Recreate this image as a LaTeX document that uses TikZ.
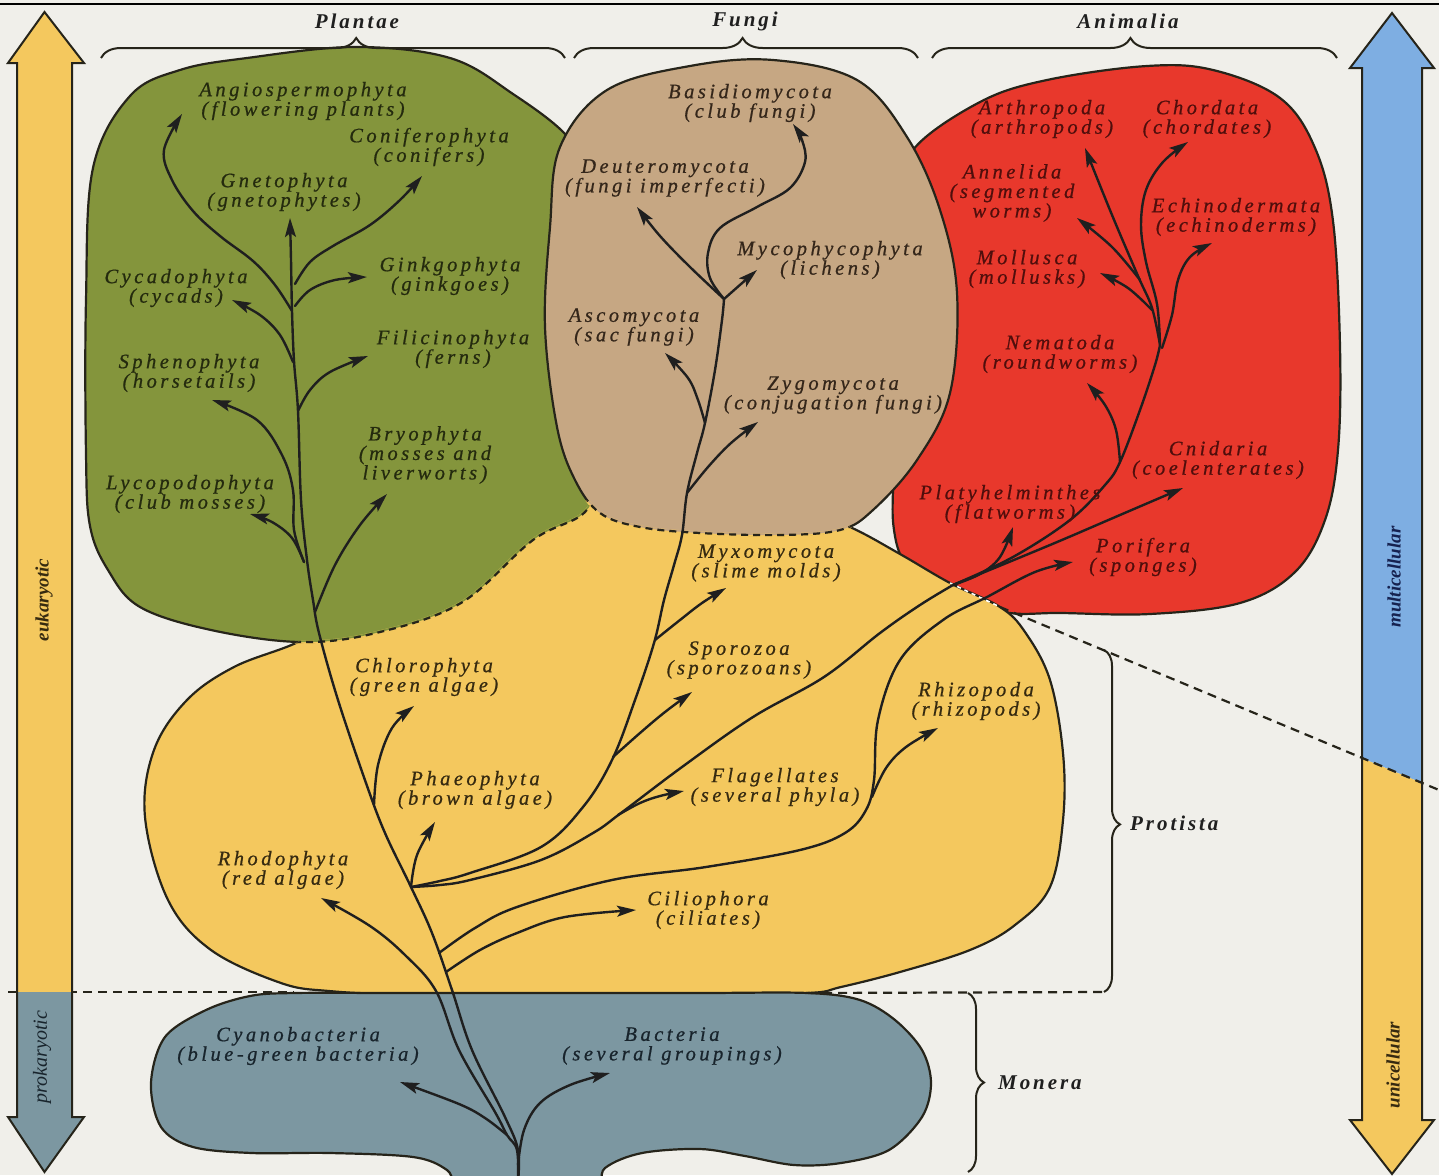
\documentclass[tikz,border=0pt]{standalone}
\usepackage{fontspec}
\setmainfont{Liberation Serif}
\newfontfamily\labfont{Liberation Serif}[LetterSpace=17,FakeBold=0.7]
\newfontfamily\kingfont{Liberation Serif}[LetterSpace=14]
\usetikzlibrary{arrows.meta,decorations.pathreplacing}

\definecolor{bgc}{RGB}{240,239,234}
\definecolor{plantc}{RGB}{132,149,60}
\definecolor{fungc}{RGB}{198,167,131}
\definecolor{animc}{RGB}{232,56,44}
\definecolor{protc}{RGB}{244,200,94}
\definecolor{monc}{RGB}{124,151,161}
\definecolor{bluec}{RGB}{126,174,226}
\definecolor{outl}{RGB}{38,36,26}
\definecolor{inkg}{RGB}{36,42,14}
\definecolor{inkf}{RGB}{52,38,26}
\definecolor{inkr}{RGB}{80,14,12}
\definecolor{inky}{RGB}{54,42,16}
\definecolor{inkm}{RGB}{24,36,44}
\definecolor{inkb}{RGB}{22,34,80}

\def\greenpath{plot[smooth cycle, tension=0.6] coordinates {(247,58) (355,47) (450,58) (513,94) (568,137) (595,185) (608,260) (608,400) (600,470) (585,512) (533,540) (461,603) (376,633) (300,642) (211,630) (140,607) (108,570) (90,526) (86,454) (86,300) (93,168) (130,96) (180,70)}}
\def\tanpath{plot[smooth cycle, tension=0.6] coordinates {(550,227) (560,147) (607,90) (690,66) (773,60) (857,80) (907,137) (940,210) (957,293) (950,393) (917,460) (873,510) (840,530) (780,535) (700,533) (640,527) (600,513) (575,480) (557,427) (545,327)}}
\def\redpath{plot[smooth cycle, tension=0.6] coordinates {(913,150) (980,102) (1047,80) (1147,66) (1213,70) (1280,98) (1315,148) (1333,221) (1340,347) (1338,450) (1325,520) (1295,572) (1240,603) (1150,614) (1060,613) (1010,613) (960,600) (925,583) (903,560) (894,530) (893,490) (898,400) (903,300) (907,200)}}
\def\yellowpath{plot[smooth cycle, tension=0.6] coordinates {(296,643) (350,614) (440,574) (530,528) (600,497) (700,494) (790,504) (850,527) (900,554) (950,583) (1000,607) (1025,632) (1050,680) (1063,753) (1063,820) (1050,887) (1015,925) (970,950) (900,972) (841,987) (808,993) (700,994) (550,994) (400,994) (329,991) (281,983) (211,950) (168,900) (145,817) (154,750) (187,700) (234,667)}}
\def\monpath{plot[smooth cycle, tension=0.55] coordinates {(294,993) (400,993) (550,993) (700,993) (808,993) (860,1000) (895,1020) (922,1050) (931,1083) (922,1117) (889,1150) (841,1163) (794,1165) (745,1156) (700,1149) (642,1153) (605,1168) (588,1195) (470,1195) (447,1170) (413,1157) (330,1153) (252,1153) (193,1147) (161,1127) (151,1083) (165,1037) (206,1010) (250,996)}}
\def\leftarr{(17,63) -- (8,63) -- (44.5,12) -- (84,63) -- (72,63) -- (72,1117) -- (84,1117) -- (44.5,1172) -- (8,1117) -- (17,1117) -- cycle}
\def\rightarr{(1362,68) -- (1350,68) -- (1392,13) -- (1434,68) -- (1422,68) -- (1422,1120) -- (1434,1120) -- (1392,1174) -- (1350,1120) -- (1362,1120) -- cycle}

\tikzset{
  blob/.style={draw=outl, line width=2.2pt},
  brline/.style={draw=black!88, line width=2.4pt, line cap=round, line join=round},
  arr/.style={brline, -{Stealth[length=19pt,width=11pt,inset=4pt]}},
  lab/.style={font=\labfont\itshape\fontsize{20.5}{19.5}\selectfont, align=center, inner sep=0pt},
  king/.style={font=\kingfont\bfseries\itshape\fontsize{21}{22}\selectfont, text=black!88, inner sep=0pt},
  sidelab/.style={font=\bfseries\itshape\fontsize{19}{20}\selectfont, inner sep=0pt, rotate=90},
  brc/.style={draw=outl, line width=2pt, decorate},
  divl/.style={draw=outl, line width=2.2pt, dash pattern=on 9pt off 6pt},
  hid/.style={draw=outl, line width=2.2pt, dash pattern=on 7pt off 5pt},
}

\begin{document}
\begin{tikzpicture}[x=1pt,y=-1pt]
\useasboundingbox (0,0) rectangle (1439,1175);
\begin{scope}
\clip (0,0) rectangle (1439,1175);
\fill[bgc] (0,0) rectangle (1439,1175);
\draw[black, line width=2.5pt] (0,4) -- (1439,4);

% ---- kingdoms ----
\fill[animc] \redpath;
\draw[blob] \redpath;
\fill[protc] \yellowpath;
\draw[blob] \yellowpath;
\draw[white, line width=1.6pt, dash pattern=on 4pt off 4pt] (950,583) -- (1000,607);

\fill[plantc] \greenpath;
\draw[blob] \greenpath;
\begin{scope}
  \clip \yellowpath;
  \draw[protc, line width=3.4pt] \greenpath;
  \begin{scope}
    \clip \greenpath;
    \draw[plantc, line width=3.4pt] \greenpath;
  \end{scope}
  \draw[hid] \greenpath;
\end{scope}

\fill[fungc] \tanpath;
\draw[blob] \tanpath;
\begin{scope}
  \clip \yellowpath;
  \draw[protc, line width=3.4pt] \tanpath;
  \begin{scope}
    \clip \tanpath;
    \draw[fungc, line width=3.4pt] \tanpath;
  \end{scope}
  \draw[hid] \tanpath;
\end{scope}

\fill[monc] \monpath;
\draw[blob] \monpath;

% ---- division lines ----
\draw[divl] (8,992) -- (294,992);
\draw[divl] (808,993) -- (1104,992);

% ---- side arrows ----
\begin{scope} \clip (0,0) rectangle (100,992); \fill[protc] \leftarr; \end{scope}
\begin{scope} \clip (0,992) rectangle (100,1175); \fill[monc] \leftarr; \end{scope}
\draw[outl, line width=2pt] \leftarr;
\begin{scope} \clip (1330,0) -- (1439,0) -- (1439,790) -- (1330,745) -- cycle; \fill[bluec] \rightarr; \end{scope}
\begin{scope} \clip (1330,745) -- (1439,790) -- (1439,1175) -- (1330,1175) -- cycle; \fill[protc] \rightarr; \end{scope}
\draw[outl, line width=2pt] \rightarr;
\draw[divl] (1000,607) -- (1439,790);

\node[sidelab, text=inky] (euk) at (44,600) {eukaryotic};
\node[sidelab, text=inkm, font=\itshape\fontsize{20}{20}\selectfont] (prok) at (42,1057) {prokaryotic};
\node[sidelab, text=inkb] (multi) at (1394,577) {multicellular};
\node[sidelab, text=inky] (uni) at (1393,1065) {unicellular};

% ---- braces ----
\draw[brc, decoration={brace, amplitude=20pt, aspect=0.55}] (101,58) -- (565,58);
\draw[brc, decoration={brace, amplitude=20pt, aspect=0.49}] (574,58) -- (918,58);
\draw[brc, decoration={brace, amplitude=20pt, aspect=0.49}] (932,58) -- (1337,58);
\draw[brc, decoration={brace, amplitude=16pt, aspect=0.51}] (1104,650) -- (1104,992);
\draw[brc, decoration={brace, amplitude=16pt, aspect=0.5}] (968,993) -- (968,1172);
\node[king] (plantae) at (357,21) {Plantae};
\node[king] (fungi) at (745,21) {Fungi};
\node[king] (animalia) at (1128,21) {Animalia};
\node[king, anchor=west] (protista) at (1130,823) {Protista};
\node[king, anchor=west] (monera) at (998,1083) {Monera};

% ---- tree coordinates ----
\coordinate (root) at (518,1182);
\coordinate (j0) at (517,1150);
\coordinate (jPha) at (411,887);
\coordinate (jCil) at (446,972);
\coordinate (jRhz) at (439,953);
\coordinate (fnJ) at (724,299);
\coordinate (anJ) at (953,585);
\coordinate (an2) at (1160,345);
\coordinate (cyT) at (400,1082);
\coordinate (baT) at (610,1073);
\coordinate (rhT) at (321,898);
\coordinate (ciT) at (636,910);
\coordinate (phT) at (435,822);
\coordinate (chT) at (414,706);
\coordinate (spT) at (692,692);
\coordinate (myT) at (726,588);
\coordinate (flT) at (684,791);
\coordinate (rzT) at (938,728);
\coordinate (poT) at (1073,562);
\coordinate (gnT) at (290,218);
\coordinate (brT) at (387,494);
\coordinate (lyT) at (250,514);
\coordinate (shT) at (212,400);
\coordinate (fiT) at (368,356);
\coordinate (cdT) at (232,300);
\coordinate (gkT) at (367,277);
\coordinate (cnfT) at (422,176);
\coordinate (agT) at (182,114);
\coordinate (zyT) at (758,422);
\coordinate (asT) at (665,353);
\coordinate (deT) at (637,207);
\coordinate (mpT) at (757,270);
\coordinate (bsT) at (793,124);
\coordinate (plT) at (1013,527);
\coordinate (cnT) at (1183,488);
\coordinate (neT) at (1087,383);
\coordinate (arT) at (1085,148);
\coordinate (aeT) at (1077,218);
\coordinate (moT) at (1100,273);
\coordinate (coT) at (1188,142);
\coordinate (ecT) at (1212,243);

% ---- Monera ----
\draw[arr] plot[smooth, tension=0.6] coordinates {(root) (j0) (507,1135) (495,1112) (459,1050) (436,991) (405,955) (370,926) (rhT)};
\draw[arr] plot[smooth, tension=0.6] coordinates {(507,1135) (485,1118) (459,1104) (cyT)};
\draw[arr] plot[smooth, tension=0.6] coordinates {(518,1165) (524,1130) (540,1103) (570,1085) (baT)};
% main trunk up to Gnetophyta
\draw[arr] plot[smooth, tension=0.6] coordinates {(root) (518,1150) (505,1117) (472,1050) (452,990) (432,933) (jPha) (385,833) (366,783) (338,700) (319,633) (313,600) (307,560) (301,500) (298,411) (294,361) (292,311) (291,260) (gnT)};

% ---- Protista ----
\draw[arr] plot[smooth, tension=0.6] coordinates {(jCil) (480,950) (517,933) (565,917) (ciT)};
\draw[arr] plot[smooth, tension=0.6] coordinates {(jRhz) (475,928) (517,907) (612,880) (706,867) (800,850) (845,833) (866,810) (874,780) (878,720) (900,660) (943,620) (987,597) (1035,572) (poT)};
\draw[arr] plot[smooth, tension=0.6] coordinates {(872,797) (886,768) (906,747) (rzT)};
\draw[arr] plot[smooth, tension=0.6] coordinates {(jPha) (417,855) (phT)};
\draw[arr] plot[smooth, tension=0.6] coordinates {(374,805) (378,765) (392,728) (chT)};
\draw[brline] plot[smooth, tension=0.6] coordinates {(jPha) (440,881) (470,873) (541,847) (583,807) (612,760) (635,700) (654,643) (664,600) (674,565) (682,535) (687,493) (697,453) (705,423) (715,370) (722,320) (fnJ)};
\draw[arr] plot[smooth, tension=0.6] coordinates {(613,757) (640,733) (665,712) (spT)};
\draw[arr] plot[smooth, tension=0.6] coordinates {(655,640) (680,620) (702,603) (myT)};
\draw[brline] plot[smooth, tension=0.6] coordinates {(jPha) (440,885) (470,880) (541,860) (593,833) (621,813) (682,767) (753,717) (824,677) (880,633) (920,605) (anJ)};
\draw[arr] plot[smooth, tension=0.6] coordinates {(618,815) (640,803) (660,796) (flT)};

% ---- Plantae ----
\draw[arr] plot[smooth, tension=0.6] coordinates {(315,612) (335,565) (360,525) (brT)};
\draw[arr] plot[smooth, tension=0.6] coordinates {(304,562) (292,538) (272,522) (lyT)};
\draw[arr] plot[smooth, tension=0.6] coordinates {(304,562) (294,530) (293,490) (282,455) (257,420) (shT)};
\draw[arr] plot[smooth, tension=0.6] coordinates {(298,411) (310,390) (330,372) (fiT)};
\draw[arr] plot[smooth, tension=0.6] coordinates {(293,362) (280,335) (260,315) (cdT)};
\draw[arr] plot[smooth, tension=0.6] coordinates {(295,306) (310,290) (335,280) (gkT)};
\draw[arr] plot[smooth, tension=0.6] coordinates {(295,284) (310,262) (333,246) (370,225) (400,200) (cnfT)};
\draw[arr] plot[smooth, tension=0.6] coordinates {(292,311) (275,285) (253,261) (220,236) (193,211) (172,180) (164,150) (agT)};

% ---- Fungi ----
\draw[arr] plot[smooth, tension=0.6] coordinates {(687,493) (708,467) (731,443) (zyT)};
\draw[arr] plot[smooth, tension=0.6] coordinates {(705,423) (698,400) (688,378) (asT)};
\draw[arr] plot[smooth, tension=0.6] coordinates {(fnJ) (690,267) (660,236) (deT)};
\draw[arr] plot[smooth, tension=0.6] coordinates {(fnJ) (741,284) (mpT)};
\draw[arr] plot[smooth, tension=0.6] coordinates {(fnJ) (710,278) (708,253) (720,228) (757,207) (790,188) (805,162) (802,140) (bsT)};

% ---- Animalia ----
\draw[arr] plot[smooth, tension=0.6] coordinates {(anJ) (980,574) (1000,557) (plT)};
\draw[arr] plot[smooth, tension=0.6] coordinates {(anJ) (1050,545) (1120,515) (cnT)};
\draw[brline] plot[smooth, tension=0.6] coordinates {(anJ) (1013,557) (1070,520) (1105,485) (1120,462) (1140,410) (1155,365) (an2)};
\draw[arr] plot[smooth, tension=0.6] coordinates {(1120,462) (1116,430) (1105,405) (neT)};
\draw[arr] plot[smooth, tension=0.6] coordinates {(an2) (1152,308) (1138,276) (1112,215) (arT)};
\draw[arr] plot[smooth, tension=0.6] coordinates {(1140,280) (1112,247) (aeT)};
\draw[arr] plot[smooth, tension=0.6] coordinates {(1152,310) (1128,288) (moT)};
\draw[arr] plot[smooth, tension=0.6] coordinates {(an2) (1157,304) (1146,262) (1141,225) (1146,190) (1163,162) (coT)};
\draw[arr] plot[smooth, tension=0.6] coordinates {(1162,348) (1172,315) (1178,280) (1190,257) (ecT)};

% ---- labels: Plantae ----
\node[lab, text=inkg] (angL) at (303,101) {Angiospermophyta\\(flowering plants)};
\node[lab, text=inkg] (conL) at (429,147) {Coniferophyta\\(conifers)};
\node[lab, text=inkg] (gneL) at (284,192) {Gnetophyta\\(gnetophytes)};
\node[lab, text=inkg] (ginL) at (450,276) {Ginkgophyta\\(ginkgoes)};
\node[lab, text=inkg] (cycL) at (176,288) {Cycadophyta\\(cycads)};
\node[lab, text=inkg] (filL) at (453,349) {Filicinophyta\\(ferns)};
\node[lab, text=inkg] (sphL) at (189,373) {Sphenophyta\\(horsetails)};
\node[lab, text=inkg] (bryL) at (425,455) {Bryophyta\\(mosses and\\liverworts)};
\node[lab, text=inkg] (lycL) at (190,494) {Lycopodophyta\\(club mosses)};
% Fungi
\node[lab, text=inkf] (basL) at (750,103) {Basidiomycota\\(club fungi)};
\node[lab, text=inkf] (deuL) at (665,178) {Deuteromycota\\(fungi imperfecti)};
\node[lab, text=inkf] (mycL) at (830,260) {Mycophycophyta\\(lichens)};
\node[lab, text=inkf] (ascL) at (634,327) {Ascomycota\\(sac fungi)};
\node[lab, text=inkf] (zygL) at (833,395) {Zygomycota\\(conjugation fungi)};
% Animalia
\node[lab, text=inkr] (artL) at (1042,119) {Arthropoda\\(arthropods)};
\node[lab, text=inkr] (chdL) at (1207,119) {Chordata\\(chordates)};
\node[lab, text=inkr] (annL) at (1012,193) {Annelida\\(segmented\\worms)};
\node[lab, text=inkr] (echL) at (1236,217) {Echinodermata\\(echinoderms)};
\node[lab, text=inkr] (molL) at (1027,269) {Mollusca\\(mollusks)};
\node[lab, text=inkr] (nemL) at (1060,354) {Nematoda\\(roundworms)};
\node[lab, text=inkr] (cniL) at (1218,460) {Cnidaria\\(coelenterates)};
\node[lab, text=inkr] (plaL) at (1010,504) {Platyhelminthes\\(flatworms)};
\node[lab, text=inkr] (porL) at (1143,557) {Porifera\\(sponges)};
% Protista
\node[lab, text=inky] (myxL) at (766,563) {Myxomycota\\(slime molds)};
\node[lab, text=inky] (spoL) at (739,660) {Sporozoa\\(sporozoans)};
\node[lab, text=inky] (chlL) at (424,677) {Chlorophyta\\(green algae)};
\node[lab, text=inky] (rhzL) at (976,701) {Rhizopoda\\(rhizopods)};
\node[lab, text=inky] (phaL) at (475,790) {Phaeophyta\\(brown algae)};
\node[lab, text=inky] (flaL) at (775,787) {Flagellates\\(several phyla)};
\node[lab, text=inky] (rhoL) at (283,870) {Rhodophyta\\(red algae)};
\node[lab, text=inky] (cilL) at (708,910) {Ciliophora\\(ciliates)};
% Monera
\node[lab, text=inkm] (cyaL) at (298,1046) {Cyanobacteria\\(blue-green bacteria)};
\node[lab, text=inkm] (bacL) at (672,1046) {Bacteria\\(several groupings)};
\end{scope}
\end{tikzpicture}
\end{document}
